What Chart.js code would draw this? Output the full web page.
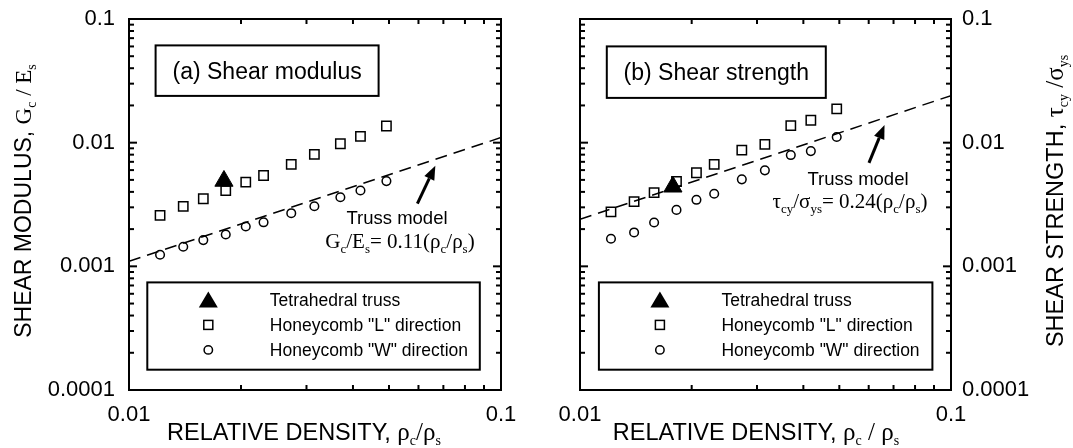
<!DOCTYPE html>
<html>
<head>
<meta charset="utf-8">
<script src="https://cdn.jsdelivr.net/npm/chart.js@4.4.1/dist/chart.umd.min.js"></script>
<style>
  html, body { margin: 0; padding: 0; background: #fff; }
  #wrap { position: relative; width: 1073px; height: 448px; overflow: hidden; }
  canvas { position: absolute; top: 0; }
</style>
</head>
<body>
<div id="wrap">
  <canvas id="modulusChart" width="540" height="448" style="left:0"></canvas>
  <canvas id="strengthChart" width="533" height="448" style="left:540px"></canvas>
</div>
<script>
// relative density of each honeycomb sample (same for both panels)
const density = [0.01212, 0.01399, 0.01584, 0.0182, 0.0206, 0.0230, 0.0273, 0.0315, 0.0370, 0.0419, 0.0492];

// (a) shear modulus Gc/Es
const modulusL = [0.00258, 0.00305, 0.00352, 0.0041, 0.0048, 0.00543, 0.00667, 0.00804, 0.0098, 0.01125, 0.01364];
const modulusW = [0.00124, 0.00144, 0.00163, 0.00181, 0.0021, 0.00227, 0.00269, 0.00306, 0.00362, 0.0041, 0.00489];
const modulusTrussX = [0.0180];
const modulusTrussY = [0.0049];

// (b) shear strength tau/sigma
const strengthL = [0.00276, 0.00334, 0.00394, 0.00485, 0.00571, 0.00667, 0.00871, 0.00968, 0.01374, 0.01517, 0.01875];
const strengthW = [0.00167, 0.00188, 0.00226, 0.00286, 0.00345, 0.00386, 0.00505, 0.00597, 0.00794, 0.00855, 0.01111];
const strengthTrussX = [0.0178];
const strengthTrussY = [0.0044];

// truss model lines (end points)
const modelX = [0.01, 0.1];
const modulusModel = [0.0011, 0.011];
const strengthModel = [0.0024, 0.024];

// arrows pointing at the model line: [tail, head]
const modulusArrowX = [0.0596, 0.0666];
const modulusArrowY = [0.00322, 0.0065];
const strengthArrowX = [0.0601, 0.0662];
const strengthArrowY = [0.00687, 0.0139];

const legendLabels = ['Tetrahedral truss', 'Honeycomb "L" direction', 'Honeycomb "W" direction'];

const SANS = "'Liberation Sans', Arial, sans-serif";
const SERIF = "'Liberation Serif', 'Times New Roman', serif";
const sans = s => `${s}px ${SANS}`;
const serif = s => `${s}px ${SERIF}`;

const pts = (xs, ys) => xs.map((x, i) => ({ x, y: ys[i] }));

function drawRich(ctx, parts, x, y, align) {
  let w = 0;
  for (const p of parts) { ctx.font = p.f; w += ctx.measureText(p.t).width; }
  let cx = align === 'center' ? x - w / 2 : x;
  ctx.textAlign = 'left';
  ctx.textBaseline = 'alphabetic';
  for (const p of parts) {
    ctx.font = p.f;
    ctx.fillText(p.t, cx, y + (p.dy || 0));
    cx += ctx.measureText(p.t).width;
  }
}

function line(ctx, x1, y1, x2, y2) {
  ctx.beginPath(); ctx.moveTo(x1, y1); ctx.lineTo(x2, y2); ctx.stroke();
}

function makeDeco(cfg) {
  return {
    id: 'deco',
    afterDraw(chart) {
      const { ctx, chartArea: a, scales: { x, y } } = chart;
      ctx.save();
      ctx.strokeStyle = '#000';
      ctx.fillStyle = '#000';

      // frame + inward ticks on all four sides
      ctx.lineWidth = 2;
      ctx.strokeRect(a.left, a.top, a.right - a.left, a.bottom - a.top);
      for (let m = 1; m <= 9; m++) {
        const px = x.getPixelForValue(m * 0.01);
        const len = m === 1 ? 8 : 5;
        line(ctx, px, a.bottom, px, a.bottom - len);
        line(ctx, px, a.top, px, a.top + len);
      }
      for (let e = -4; e <= -2; e++) {
        for (let m = 1; m <= 9; m++) {
          const py = y.getPixelForValue(m * Math.pow(10, e));
          const len = m === 1 ? 8 : 5;
          line(ctx, a.left, py, a.left + len, py);
          line(ctx, a.right, py, a.right - len, py);
        }
      }

      // arrow
      const tx = x.getPixelForValue(cfg.arrowX[0]), ty = y.getPixelForValue(cfg.arrowY[0]);
      const hx = x.getPixelForValue(cfg.arrowX[1]), hy = y.getPixelForValue(cfg.arrowY[1]);
      const ang = Math.atan2(hy - ty, hx - tx);
      const hl = 14, hw = 5.5;
      const bx = hx - hl * Math.cos(ang), by = hy - hl * Math.sin(ang);
      ctx.lineWidth = 3;
      line(ctx, tx, ty, bx, by);
      ctx.beginPath();
      ctx.moveTo(hx, hy);
      ctx.lineTo(bx + hw * Math.sin(ang), by - hw * Math.cos(ang));
      ctx.lineTo(bx - hw * Math.sin(ang), by + hw * Math.cos(ang));
      ctx.closePath();
      ctx.fill();

      // model annotation
      ctx.font = sans(18.5);
      ctx.textAlign = 'center';
      ctx.textBaseline = 'alphabetic';
      ctx.fillText('Truss model', a.left + cfg.noteX, a.top + cfg.noteY);
      drawRich(ctx, cfg.formula, a.left + cfg.formulaX, a.top + cfg.formulaY, 'center');

      // title box
      ctx.lineWidth = 2;
      const b = cfg.titleBox;
      ctx.fillStyle = '#fff';
      ctx.fillRect(a.left + b[0], a.top + b[1], b[2], b[3]);
      ctx.strokeRect(a.left + b[0], a.top + b[1], b[2], b[3]);
      ctx.fillStyle = '#000';
      ctx.font = sans(23);
      ctx.textAlign = 'center';
      ctx.fillText(cfg.title, a.left + b[0] + b[2] / 2, a.top + b[1] + b[3] / 2 + 8);

      // legend box
      const l = cfg.legendBox;
      const lx = a.left + l[0], ly = a.top + l[1];
      ctx.fillStyle = '#fff';
      ctx.fillRect(lx, ly, l[2], l[3]);
      ctx.strokeRect(lx, ly, l[2], l[3]);
      ctx.fillStyle = '#000';
      const mx = lx + 61;
      const rows = [17.5, 42.5, 67.5];
      // triangle
      ctx.beginPath();
      ctx.moveTo(mx, ly + rows[0] - 8.5);
      ctx.lineTo(mx + 9.5, ly + rows[0] + 7.5);
      ctx.lineTo(mx - 9.5, ly + rows[0] + 7.5);
      ctx.closePath();
      ctx.fill();
      // square
      ctx.lineWidth = 1.5;
      ctx.strokeRect(mx - 4.5, ly + rows[1] - 4.5, 9, 9);
      // circle
      ctx.beginPath();
      ctx.arc(mx, ly + rows[2], 4.2, 0, Math.PI * 2);
      ctx.stroke();
      ctx.font = sans(17.5);
      ctx.textAlign = 'left';
      legendLabels.forEach((t, i) => ctx.fillText(t, lx + 122.5, ly + rows[i] + 6.5));

      // axis titles
      drawRich(ctx, cfg.xTitle, a.left + cfg.xTitleX, 440, 'center');
      ctx.translate(cfg.yTitleX, 201);
      ctx.rotate(-Math.PI / 2);
      drawRich(ctx, cfg.yTitle, 0, 0, 'center');
      ctx.restore();
    }
  };
}

function tickLabel(v) {
  const l = Math.log10(v);
  return Math.abs(l - Math.round(l)) < 1e-6 ? String(Math.pow(10, Math.round(l)).toFixed(-Math.round(l)) * 1) : '';
}

function buildChart(id, o) {
  const tickFont = { family: SANS, size: 22 };
  new Chart(document.getElementById(id), {
    type: 'scatter',
    data: {
      datasets: [
        {
          data: pts(modelX, o.model),
          showLine: true,
          borderColor: '#000',
          borderWidth: 1.5,
          borderDash: [12, 7],
          pointRadius: 0
        },
        {
          data: pts(density, o.seriesL),
          pointStyle: 'rect',
          pointRadius: 6.6,
          borderWidth: 1.5,
          borderColor: '#000',
          backgroundColor: 'rgba(0,0,0,0)'
        },
        {
          data: pts(density, o.seriesW),
          pointStyle: 'circle',
          pointRadius: 4.3,
          borderWidth: 1.5,
          borderColor: '#000',
          backgroundColor: 'rgba(0,0,0,0)'
        },
        {
          data: pts(o.trussX, o.trussY),
          pointStyle: 'triangle',
          pointRadius: 10.5,
          borderWidth: 1,
          borderColor: '#000',
          backgroundColor: '#000'
        }
      ]
    },
    options: {
      responsive: false,
      animation: false,
      devicePixelRatio: 1,
      layout: { padding: o.padding },
      plugins: { legend: { display: false }, tooltip: { enabled: false } },
      scales: {
        x: {
          type: 'logarithmic',
          min: 0.01,
          max: 0.1,
          grid: { display: false, drawTicks: false },
          border: { display: false },
          ticks: { color: '#000', font: tickFont, padding: 12, autoSkip: false, maxRotation: 0, callback: tickLabel },
          afterFit: s => { s.height = 58; s.paddingLeft = 0; s.paddingRight = 0; }
        },
        y: {
          type: 'logarithmic',
          position: o.yPos,
          min: 0.0001,
          max: 0.1,
          grid: { display: false, drawTicks: false },
          border: { display: false },
          ticks: { color: '#000', font: tickFont, padding: o.yPad, autoSkip: false, callback: tickLabel },
          afterFit: s => { s.width = o.yWidth; s.paddingTop = 0; s.paddingBottom = 0; }
        }
      }
    },
    plugins: [makeDeco(o.deco)]
  });
}

const sub = 14, big = 23.5;

buildChart('modulusChart', {
  model: modulusModel, seriesL: modulusL, seriesW: modulusW,
  trussX: modulusTrussX, trussY: modulusTrussY,
  padding: { top: 19, right: 39, left: 0, bottom: 0 },
  yPos: 'left', yWidth: 129, yPad: 14,
  deco: {
    arrowX: modulusArrowX, arrowY: modulusArrowY,
    noteX: 268, noteY: 205, formulaX: 271, formulaY: 229,
    formula: [
      { t: 'G', f: serif(21) }, { t: 'c', f: serif(13), dy: 5 }, { t: '/E', f: serif(21) },
      { t: 's', f: serif(13), dy: 5 }, { t: '= 0.11(ρ', f: serif(21) }, { t: 'c', f: serif(13), dy: 5 },
      { t: '/ρ', f: serif(21) }, { t: 's', f: serif(13), dy: 5 }, { t: ')', f: serif(21) }
    ],
    title: '(a) Shear modulus', titleBox: [26.6, 26.4, 223, 50.5],
    legendBox: [18.3, 263.4, 332.5, 87.3],
    xTitleX: 175,
    xTitle: [
      { t: 'RELATIVE DENSITY, ', f: sans(big) }, { t: 'ρ', f: serif(25) }, { t: 'c', f: serif(sub), dy: 5 },
      { t: '/', f: serif(25) }, { t: 'ρ', f: serif(25) }, { t: 's', f: serif(sub), dy: 5 }
    ],
    yTitleX: 31,
    yTitle: [
      { t: 'SHEAR MODULUS, ', f: sans(23) }, { t: 'G', f: serif(23) }, { t: 'c', f: serif(sub), dy: 5 },
      { t: ' / ', f: serif(23) }, { t: 'E', f: serif(23) }, { t: 's', f: serif(sub), dy: 5 }
    ]
  }
});

buildChart('strengthChart', {
  model: strengthModel, seriesL: strengthL, seriesW: strengthW,
  trussX: strengthTrussX, trussY: strengthTrussY,
  padding: { top: 19, right: 0, left: 40, bottom: 0 },
  yPos: 'right', yWidth: 122, yPad: 11,
  deco: {
    arrowX: strengthArrowX, arrowY: strengthArrowY,
    noteX: 278, noteY: 166, formulaX: 270, formulaY: 189,
    formula: [
      { t: 'τ', f: serif(21) }, { t: 'cy', f: serif(13), dy: 5 }, { t: '/σ', f: serif(21) },
      { t: 'ys', f: serif(13), dy: 5 }, { t: '= 0.24(ρ', f: serif(21) }, { t: 'c', f: serif(13), dy: 5 },
      { t: '/ρ', f: serif(21) }, { t: 's', f: serif(13), dy: 5 }, { t: ')', f: serif(21) }
    ],
    title: '(b) Shear strength', titleBox: [26.8, 27.4, 219, 51.5],
    legendBox: [18.9, 263.4, 333.5, 87.3],
    xTitleX: 176,
    xTitle: [
      { t: 'RELATIVE DENSITY, ', f: sans(big) }, { t: 'ρ', f: serif(25) }, { t: 'c', f: serif(sub), dy: 5 },
      { t: ' / ', f: serif(25) }, { t: 'ρ', f: serif(25) }, { t: 's', f: serif(sub), dy: 5 }
    ],
    yTitleX: 523,
    yTitle: [
      { t: 'SHEAR STRENGTH, ', f: sans(big) }, { t: 'τ', f: serif(25) }, { t: 'cy', f: serif(sub), dy: 5 },
      { t: ' /', f: serif(25) }, { t: 'σ', f: serif(25) }, { t: 'ys', f: serif(sub), dy: 5 }
    ]
  }
});
</script>
</body>
</html>
